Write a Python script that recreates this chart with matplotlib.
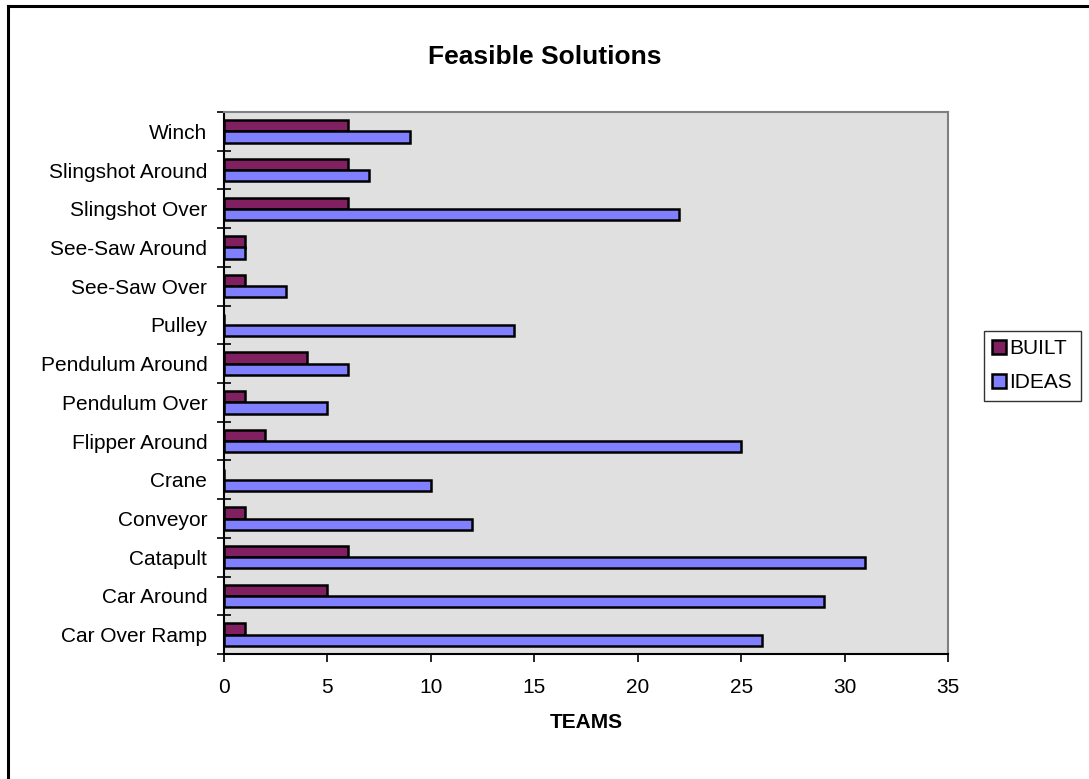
import matplotlib.pyplot as plt
from matplotlib.lines import Line2D
import numpy as np

plt.rcParams['font.family'] = ['Liberation Sans', 'DejaVu Sans']

categories = ["Car Over Ramp", "Car Around", "Catapult", "Conveyor", "Crane",
              "Flipper Around", "Pendulum Over", "Pendulum Around", "Pulley",
              "See-Saw Over", "See-Saw Around", "Slingshot Over",
              "Slingshot Around", "Winch"]
built = [1, 5, 6, 1, 0, 2, 1, 4, 0, 1, 1, 6, 6, 6]
ideas = [26, 29, 31, 12, 10, 25, 5, 6, 14, 3, 1, 22, 7, 9]
x_ticks = [0, 5, 10, 15, 20, 25, 30, 35]

fig = plt.figure(figsize=(10.89, 7.79), dpi=100)
ax = fig.add_axes([224 / 1089, 1 - 654 / 779, 724 / 1089, 542 / 779])
ax.set_facecolor("#e0e0e0")

y = np.arange(len(categories))
h = 0.29
ax.barh(y + h / 2, built, height=h, color="#802060", edgecolor="black",
        linewidth=1.8, label="BUILT")
ax.barh(y - h / 2, ideas, height=h, color="#8080ff", edgecolor="black",
        linewidth=1.8, label="IDEAS")

ax.set_xlim(0, 35)
ax.set_ylim(-0.5, len(categories) - 0.5)
ax.set_xticks(x_ticks)
ax.set_yticks(y)
ax.set_yticklabels(categories)
ax.set_yticks(np.arange(len(categories) + 1) - 0.5, minor=True)

ax.tick_params(axis="y", which="major", length=0, pad=12, labelsize=15)
ax.tick_params(axis="y", which="minor", direction="inout", length=10,
               width=1.2, color="black")
ax.tick_params(axis="x", direction="out", length=6, width=1.2, pad=11,
               labelsize=15)

for side in ("top", "right"):
    ax.spines[side].set_color("#808080")
    ax.spines[side].set_linewidth(1.5)
for side in ("left", "bottom"):
    ax.spines[side].set_color("black")
    ax.spines[side].set_linewidth(1.5)

ax.set_xlabel("TEAMS", fontsize=15, fontweight="bold", labelpad=12)
fig.text(0.5, 1 - 57 / 779, "Feasible Solutions", ha="center", va="center",
         fontsize=19, fontweight="bold")

leg = ax.legend(loc="upper left", bbox_to_anchor=(984 / 1089, 1 - 331 / 779),
                bbox_transform=fig.transFigure, fontsize=15, frameon=True,
                fancybox=False, edgecolor="black", handlelength=0.67,
                handleheight=0.67, handletextpad=0.15, borderpad=0.4,
                labelspacing=0.72, borderaxespad=0)
leg.get_frame().set_linewidth(1.0)

# outer chart frame
fig.add_artist(Line2D([8 / 1089, 8 / 1089], [0, 1 - 6 / 779], color="black",
                      linewidth=2.2, transform=fig.transFigure))
fig.add_artist(Line2D([8 / 1089, 1], [1 - 6 / 779, 1 - 6 / 779], color="black",
                      linewidth=2.2, transform=fig.transFigure))

fig.savefig("out.png", dpi=100)
